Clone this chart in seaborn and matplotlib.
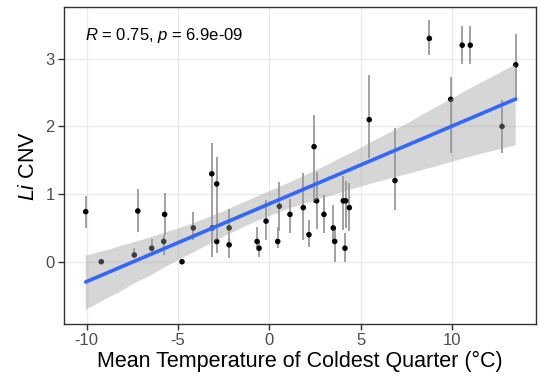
import numpy as np
import pandas as pd
import matplotlib
matplotlib.use("Agg")
import matplotlib.pyplot as plt
import seaborn as sns
from matplotlib.collections import PolyCollection

# ---- data ----
temp = [-10.05, -9.2, -7.39, -7.2, -6.44, -5.78, -5.73, -4.78, -4.16, -3.15,
        -2.88, -3.12, -2.88, -2.2, -2.2, -0.67, -0.56, -0.18, 0.55, 0.46,
        1.13, 1.86, 2.17, 2.45, 2.59, 2.99, 3.5, 3.58, 4.05, 4.18,
        4.14, 4.38, 5.47, 6.88, 8.76, 9.93, 10.56, 11.0, 12.74, 13.49]
cnv = [0.74, 0.0, 0.1, 0.75, 0.2, 0.3, 0.7, 0.0, 0.5, 1.3,
       1.15, 0.5, 0.3, 0.5, 0.25, 0.3, 0.2, 0.6, 0.82, 0.3,
       0.7, 0.8, 0.4, 1.7, 0.9, 0.7, 0.5, 0.3, 0.9, 0.9,
       0.2, 0.8, 2.1, 1.2, 3.3, 2.4, 3.2, 3.2, 2.0, 2.91]
cnv_lo = [0.50, 0.0, 0.05, 0.44, 0.12, 0.10, 0.40, 0.0, 0.32, 0.80,
          0.60, 0.07, 0.13, 0.25, 0.05, 0.20, 0.07, 0.32, 0.45, 0.20,
          0.42, 0.32, 0.22, 0.87, 0.48, 0.42, 0.30, 0.00, 0.47, 0.50,
          0.00, 0.45, 1.53, 0.77, 3.05, 1.60, 2.92, 2.92, 1.61, 2.38]
cnv_hi = [0.97, 0.0, 0.20, 1.07, 0.34, 0.40, 1.01, 0.0, 0.73, 1.75,
          1.55, 0.80, 0.60, 0.78, 0.35, 0.52, 0.30, 0.91, 1.18, 0.52,
          0.92, 1.31, 0.62, 2.17, 1.32, 0.98, 0.84, 0.50, 1.26, 1.20,
          0.42, 1.16, 2.76, 1.97, 3.57, 2.73, 3.48, 3.48, 2.39, 3.36]
x_ticks = [-10, -5, 0, 5, 10]
y_ticks = [0, 1, 2, 3]
stat_label = r"$\mathit{R}$ = 0.75, $\mathit{p}$ = 6.9e-09"

df = pd.DataFrame({"temp": temp, "cnv": cnv, "lo": cnv_lo, "hi": cnv_hi})

sns.set_theme(style="white")
plt.rcParams["font.family"] = ["Liberation Sans", "DejaVu Sans"]
plt.rcParams["mathtext.fontset"] = "custom"
plt.rcParams["mathtext.rm"] = "Liberation Sans"
plt.rcParams["mathtext.it"] = "Liberation Sans:italic"

fig = plt.figure(figsize=(5.39, 3.81), dpi=100)
ax = fig.add_axes([64/539, 1-324/381, (536-64)/539, (324-7.3)/381])

# grid
ax.set_axisbelow(True)
ax.grid(True, color="#ebebeb", lw=1.0)

# error bars
ax.vlines(df["temp"], df["lo"], df["hi"], color="#9a9a9a", lw=1.3, zorder=2)
# points
sns.scatterplot(data=df, x="temp", y="cnv", color="black", s=16,
                edgecolor="none", ax=ax, zorder=3)
# regression with CI band
sns.regplot(data=df, x="temp", y="cnv", scatter=False, ci=95, seed=1,
            color="#3366FF", line_kws={"lw": 2.6, "zorder": 5}, ax=ax)
for c in ax.collections:
    if isinstance(c, PolyCollection):
        c.set_alpha(None)
        c.set_facecolor((0.6, 0.6, 0.6, 0.4))
        c.set_edgecolor("none")
        c.set_zorder(4)

ax.set_xlim(-11.24, 14.6)
ax.set_ylim(-0.92, 3.76)
ax.set_xticks(x_ticks)
ax.set_xticklabels([str(t) for t in x_ticks])
ax.set_yticks(y_ticks)
ax.set_yticklabels([str(t) for t in y_ticks])
ax.tick_params(axis="both", which="major", length=4, width=1, color="#333333",
               labelcolor="#4d4d4d", labelsize=12, pad=2.5, bottom=True, left=True)

for s in ax.spines.values():
    s.set_color("#333333")
    s.set_linewidth(1.0)

ax.set_xlabel("Mean Temperature of Coldest Quarter (°C)", fontsize=15.5, color="black", labelpad=2)
ax.set_ylabel(r"$\mathit{Li}$ CNV", fontsize=15.5, color="black", labelpad=5)

ax.text(-10.1, 3.35, stat_label, fontsize=12, color="black", ha="left", va="center")

fig.savefig("out.png", dpi=100)
